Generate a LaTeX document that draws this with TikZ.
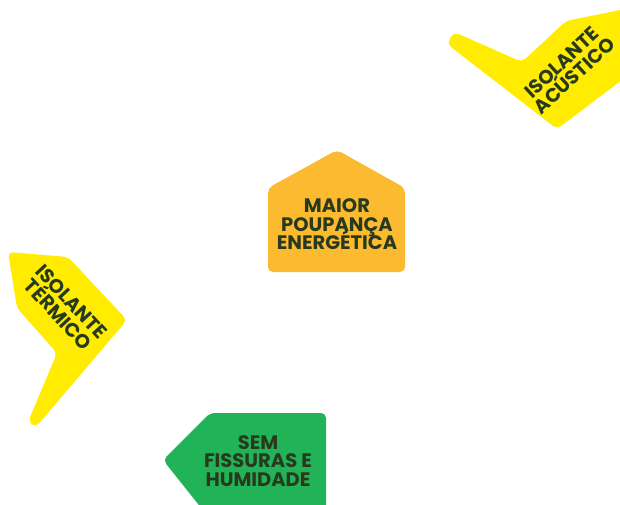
\documentclass[tikz,border=0pt]{standalone}
\usepackage{fontspec}
\setmainfont{Poppins}[BoldFont={* Bold}]
\definecolor{laranja}{HTML}{FBBA30}
\definecolor{amarelo}{HTML}{FFEC00}
\definecolor{verde}{HTML}{22B359}
\definecolor{escuro}{HTML}{283A1E}
\newcommand{\letrarotulo}{\bfseries\fontsize{19.5}{18.5}\selectfont\lineskiplimit-100pt\lineskip0pt\relax}
\tikzset{
    rotulo/.style={text=escuro, font={\letrarotulo}, align=center, inner sep=0pt},
    peca/.style={rounded corners=5pt}
}
\begin{document}
\begin{tikzpicture}[x=1pt, y=-1pt]
        \useasboundingbox (0,0) rectangle (620,504);

        % casa
        \fill[laranja, peca] (268,272) -- (268,188) -- (337,150) -- (405,188) -- (405,272) -- cycle;
        \node[rotulo] (poupanca) at (337,224.5) {MAIOR\\POUPANÇA\\ENERGÉTICA};

        % isolante acustico
        \fill[amarelo, peca] (454,32) -- (522,62) -- (566,21) -- (630,8) -- (630,74) -- (557,129) -- (447,44) -- cycle;
        \node[rotulo, rotate=43] (acustico) at (568,69) {ISOLANTE\\ACÚSTICO};

        % isolante termico
        \fill[amarelo, peca] (8,252) -- (68,257) -- (127,320) -- (36,427) -- (28,422) -- (57,353) -- (17,308) -- cycle;
        \node[rotulo, rotate=-47] (termico) at (65,308) {ISOLANTE\\TÉRMICO};

        % fissuras
        \fill[verde, peca] (206,514) -- (163,460) -- (210,413) -- (326,413) -- (326,514) -- cycle;
        \node[rotulo] (fissuras) at (258,461) {SEM\\FISSURAS E\\HUMIDADE};

    \end{tikzpicture}
\end{document}
